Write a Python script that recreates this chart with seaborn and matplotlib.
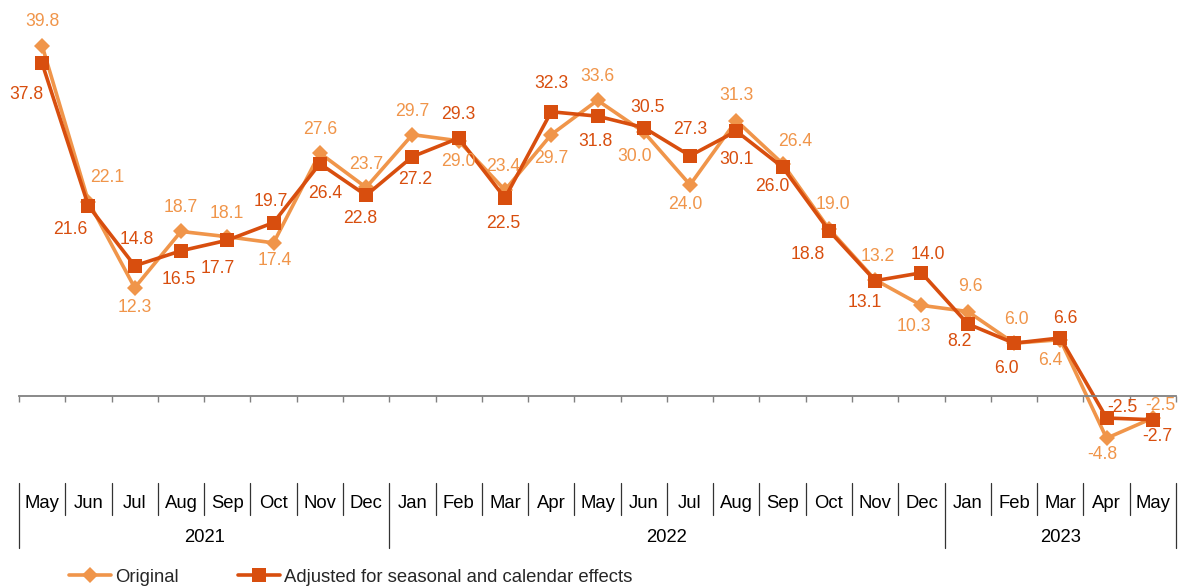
import numpy as np
import pandas as pd
import seaborn as sns
import matplotlib.pyplot as plt
import matplotlib.transforms as mtransforms

months = ['May', 'Jun', 'Jul', 'Aug', 'Sep', 'Oct', 'Nov', 'Dec',
          'Jan', 'Feb', 'Mar', 'Apr', 'May', 'Jun', 'Jul', 'Aug', 'Sep', 'Oct', 'Nov', 'Dec',
          'Jan', 'Feb', 'Mar', 'Apr', 'May']
years = ['2021'] * 8 + ['2022'] * 12 + ['2023'] * 5

original = [39.8, 22.1, 12.3, 18.7, 18.1, 17.4, 27.6, 23.7, 29.7, 29.0, 23.4, 29.7,
            33.6, 30.0, 24.0, 31.3, 26.4, 19.0, 13.2, 10.3, 9.6, 6.0, 6.4, -4.8, -2.5]
adjusted = [37.8, 21.6, 14.8, 16.5, 17.7, 19.7, 26.4, 22.8, 27.2, 29.3, 22.5, 32.3,
            31.8, 30.5, 27.3, 30.1, 26.0, 18.8, 13.1, 14.0, 8.2, 6.0, 6.6, -2.5, -2.7]

# label offsets in pixels (dx, dy), dy positive = down
orig_off = [(0, -25), (19, -25), (0, 19), (0, -25), (0, -24), (1, 17), (0, -25), (0, -24),
            (0, -24), (0, 20), (-2, -25), (0, 23), (0, -25), (-9, 23), (-5, 19), (0, -26),
            (13, -23), (4, -25), (3, -24), (-8, 20), (3, -26), (2, -25), (-10, 20), (-4, 15),
            (8, -14)]
adj_off = [(-16, 30), (-18, 23), (2, -27), (-2, 28), (-10, 27), (-3, -22), (5, 29), (-6, 22),
           (3, 22), (0, -25), (-2, 25), (0, -29), (-2, 24), (4, -21), (0, -27), (0, 27),
           (-10, 18), (-21, 23), (-10, 21), (6, -19), (-8, 17), (-8, 24), (5, -20), (16, -11),
           (4, 16)]

c_orig = '#F0954A'
c_adj = '#D84E0E'

sns.set_style('white')
plt.rcParams['font.family'] = ['Liberation Sans', 'DejaVu Sans']

df = pd.DataFrame({'idx': np.arange(len(months)), 'Original': original,
                   'Adjusted': adjusted})

fig = plt.figure(figsize=(11.79, 5.88), dpi=100)
W, H = 1179, 588
ax = fig.add_axes([19 / W, 1 - 484 / H, 1157 / W, 484 / H])

sns.lineplot(data=df, x='idx', y='Original', ax=ax, color=c_orig, marker='D',
             markersize=8.5, markeredgewidth=0, linewidth=2.6, label='Original')
sns.lineplot(data=df, x='idx', y='Adjusted', ax=ax, color=c_adj, marker='s',
             markersize=10, markeredgewidth=0, linewidth=2.6,
             label='Adjusted for seasonal and calendar effects')

for i, v in enumerate(original):
    ax.annotate(f'{v:.1f}', (i, v), xytext=(orig_off[i][0], -orig_off[i][1] - 1),
                textcoords='offset pixels', ha='center', va='center',
                color=c_orig, fontsize=12.7)
for i, v in enumerate(adjusted):
    ax.annotate(f'{v:.1f}', (i, v), xytext=(adj_off[i][0], -adj_off[i][1] - 1),
                textcoords='offset pixels', ha='center', va='center',
                color=c_adj, fontsize=12.7)

n = len(months)
ax.set_xlim(-0.5, n - 0.5)
ax.set_ylim(-10, 45)
ax.set_xlabel('')
ax.set_ylabel('')
ax.set_yticks([])
for s in ['left', 'right', 'top']:
    ax.spines[s].set_visible(False)
ax.spines['bottom'].set_position(('data', 0))
ax.spines['bottom'].set_color('#808080')
ax.spines['bottom'].set_linewidth(1.3)
ax.set_xticks(np.arange(n + 1) - 0.5)
ax.set_xticklabels([])
ax.tick_params(axis='x', direction='out', length=4, width=1, color='#808080', bottom=True)

# category axis below the plot
trans = mtransforms.blended_transform_factory(ax.transData, fig.transFigure)
y_top = 1 - 483 / H
y_mon = 1 - 515 / H
y_yr = 1 - 548 / H
for i, m in enumerate(months):
    ax.text(i, 1 - 504 / H, m, transform=trans, ha='center', va='center',
            fontsize=13.3, color='black')
for b in range(n + 1):
    new_year = b == 0 or b == n or years[b] != years[b - 1]
    y_end = y_yr if new_year else y_mon
    ax.plot([b - 0.5, b - 0.5], [y_top, y_end], transform=trans, color='#333333',
            linewidth=0.9, clip_on=False)
for yr in dict.fromkeys(years):
    pos = [i for i, y in enumerate(years) if y == yr]
    ax.text((pos[0] + pos[-1]) / 2, 1 - 537 / H, yr, transform=trans, ha='center',
            va='center', fontsize=13.3, color='black')

handles, labels = ax.get_legend_handles_labels()
ax.get_legend().remove()
fig.legend(handles, labels, loc='center left', bbox_to_anchor=(69 / W, 1 - 577 / H),
           ncol=2, frameon=False, fontsize=13.3, handlelength=2.3, handletextpad=0.2,
           columnspacing=3.2, borderpad=0, borderaxespad=0)

fig.savefig('out.png', dpi=100)
